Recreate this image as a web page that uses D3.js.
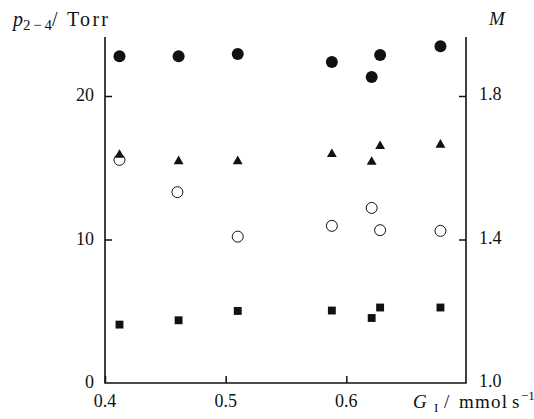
<!DOCTYPE html>
<html><head><meta charset="utf-8">
<script src="https://cdn.jsdelivr.net/npm/d3@7"></script>
<style>body{margin:0;background:#fff}</style>
</head><body><svg id="c" width="534" height="419" font-family="'Liberation Serif', 'Times New Roman', serif"></svg>
<script>
// x values (G_I, mmol s^-1)
const gFilledCircle = [0.412, 0.461, 0.510, 0.588, 0.621, 0.628, 0.678];
const mFilledCircle = [1.911, 1.911, 1.917, 1.895, 1.853, 1.914, 1.939]; // M (right axis)
const gTriangle = [0.412, 0.461, 0.510, 0.588, 0.621, 0.628, 0.678];
const pTriangle = [15.9, 15.45, 15.45, 15.95, 15.4, 16.5, 16.6];
const gOpenCircle = [0.412, 0.460, 0.510, 0.588, 0.621, 0.628, 0.678];
const pOpenCircle = [15.55, 13.3, 10.2, 10.95, 12.2, 10.65, 10.6];
const gSquare = [0.412, 0.461, 0.510, 0.588, 0.621, 0.628, 0.678];
const pSquare = [4.07, 4.37, 5.02, 5.05, 4.53, 5.26, 5.26];
const xTicks = [0.4, 0.5, 0.6];
const yLeftTicks = [0, 10, 20];
const yRightTicks = [1.0, 1.4, 1.8];

const svg = d3.select("#c");
const L = 105, R = 466, T = 37, B = 383;
const x = d3.scaleLinear().domain([0.4, 0.7]).range([L, 467]);
const yL = d3.scaleLinear().domain([0, 10]).range([B, 239.5]);
const yR = d3.scaleLinear().domain([1.0, 1.4]).range([B, 239.5]);

const ink = "#111";
// axes
const gx = svg.append("g").attr("transform", `translate(0,${B})`)
  .call(d3.axisTop(x).tickValues(xTicks).tickSize(7).tickFormat(""));
const gl = svg.append("g").attr("transform", `translate(${L},0)`)
  .call(d3.axisRight(yL).tickValues(yLeftTicks.filter(d=>d>0)).tickSize(7).tickFormat(""));
const gr = svg.append("g").attr("transform", `translate(${R},0)`)
  .call(d3.axisLeft(yR).tickValues(yRightTicks.filter(d=>d>1)).tickSize(7).tickFormat(""));
[gx, gl, gr].forEach(g => { g.select(".domain").remove(); g.selectAll("line").attr("stroke", ink).attr("stroke-width", 1.5); });
svg.append("path").attr("d", `M${L},${T}V${B}H${R}V${T}`).attr("fill", "none").attr("stroke", ink).attr("stroke-width", 1.6);

const txt = sel => sel.attr("font-family", "'Liberation Serif', 'Times New Roman', serif").attr("fill", ink);
// tick labels
svg.selectAll(".xt").data(xTicks).join("text").call(txt).attr("x", d => x(d)).attr("y", 407)
  .attr("text-anchor", "middle").attr("font-size", 18).text(d => d.toFixed(1));
svg.selectAll(".yl").data(yLeftTicks).join("text").call(txt).attr("x", 94).attr("y", d => yL(d) + 5)
  .attr("text-anchor", "end").attr("font-size", 18).text(d => d);
svg.selectAll(".yr").data(yRightTicks).join("text").call(txt).attr("x", 479).attr("y", d => yR(d) + 4)
  .attr("text-anchor", "start").attr("font-size", 18).text(d => d.toFixed(1));

// axis titles
const t1 = svg.append("text").call(txt).attr("y", 26).attr("font-size", 20);
t1.append("tspan").attr("x", 13).attr("font-style", "italic").text("p");
t1.append("tspan").attr("x", 23).attr("font-size", 15).attr("dy", 4).attr("textLength", 29).text("2−4");
t1.append("tspan").attr("x", 52).attr("dy", -4).text("/");
t1.append("tspan").attr("x", 67).attr("textLength", 41).text("Torr");
svg.append("text").call(txt).attr("x", 497).attr("y", 25).attr("text-anchor", "middle")
  .attr("font-size", 19).attr("font-style", "italic").text("M");
const t2 = svg.append("text").call(txt).attr("y", 408).attr("font-size", 19);
t2.append("tspan").attr("x", 413).attr("font-style", "italic").text("G");
t2.append("tspan").attr("x", 434).attr("font-size", 13).attr("dy", 4).text("I");
t2.append("tspan").attr("x", 444).attr("dy", -4).text("/");
t2.append("tspan").attr("x", 459).attr("textLength", 48).text("mmol");
t2.append("tspan").attr("x", 512).text("s");
t2.append("tspan").attr("x", 521).attr("font-size", 13).attr("dy", -8).text("−1");

// markers
const sym = (type, size) => d3.symbol().type(type).size(size)();
svg.selectAll(".oc").data(d3.zip(gOpenCircle, pOpenCircle)).join("circle")
  .attr("cx", d => x(d[0])).attr("cy", d => yL(d[1])).attr("r", 5.5)
  .attr("fill", "#fff").attr("stroke", ink).attr("stroke-width", 1);
svg.selectAll(".tr").data(d3.zip(gTriangle, pTriangle)).join("path")
  .attr("d", sym(d3.symbolTriangle, 42))
  .attr("transform", d => `translate(${x(d[0])},${yL(d[1])})`).attr("fill", ink);
svg.selectAll(".sq").data(d3.zip(gSquare, pSquare)).join("path")
  .attr("d", sym(d3.symbolSquare, 62))
  .attr("transform", d => `translate(${x(d[0])},${yL(d[1])})`).attr("fill", ink);
svg.selectAll(".fc").data(d3.zip(gFilledCircle, mFilledCircle)).join("circle")
  .attr("cx", d => x(d[0])).attr("cy", d => yR(d[1])).attr("r", 6).attr("fill", ink);
</script></body></html>
